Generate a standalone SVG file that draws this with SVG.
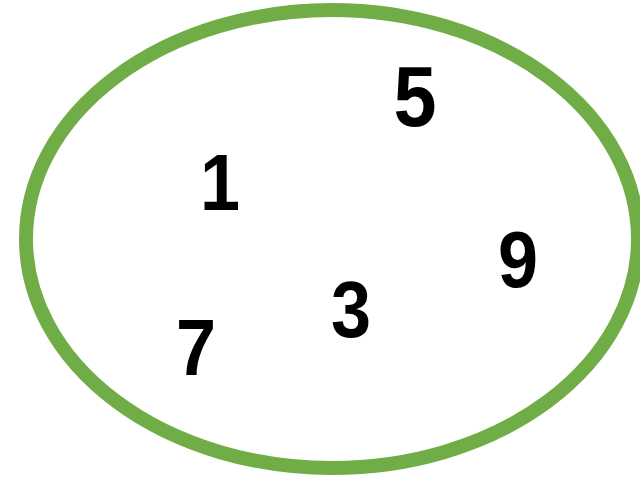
<svg xmlns="http://www.w3.org/2000/svg" width="640" height="480" viewBox="0 0 640 480">
<style>
.set{fill:none;stroke:#70AD47;stroke-width:14}
.num{font-family:"Liberation Sans",Arial,sans-serif;font-weight:bold;font-size:80px;fill:#000;text-anchor:middle}
</style>
<rect width="640" height="480" fill="#fff"/>
<g id="set"><ellipse class="set" cx="332" cy="239" rx="306" ry="229"/></g>
<g id="n1"><text class="num" transform="translate(220 210) scale(0.9 1)">1</text></g>
<g id="n5"><text class="num" transform="translate(415 126) scale(0.9 1)" style="font-size:86px">5</text></g>
<g id="n9"><text class="num" transform="translate(518 287) scale(0.9 1)">9</text></g>
<g id="n3"><text class="num" transform="translate(351 337) scale(0.9 1)">3</text></g>
<g id="n7"><text class="num" transform="translate(196 375) scale(0.9 1)">7</text></g>
</svg>
